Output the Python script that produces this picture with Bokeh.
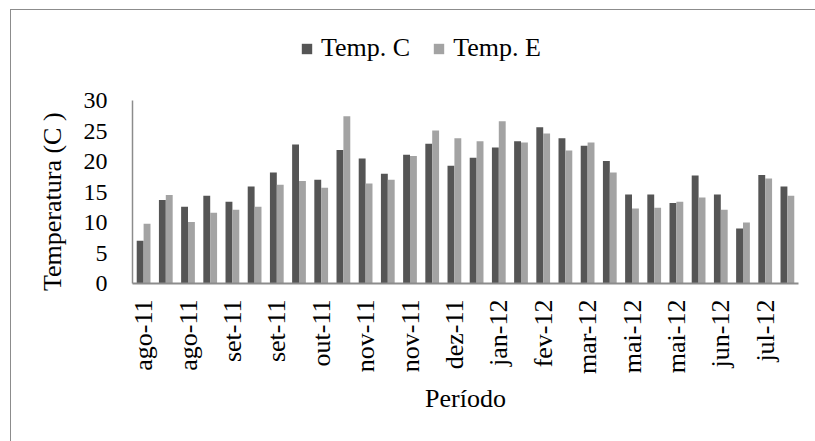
from math import pi
from bokeh.plotting import figure
from bokeh.layouts import column
from bokeh.models import FixedTicker, Legend, LegendItem
from bokeh.embed import file_html
from bokeh.resources import INLINE

# ---- data ----
tick_labels = ["ago-11", "ago-11", "set-11", "set-11", "out-11", "nov-11", "nov-11",
               "dez-11", "jan-12", "fev-12", "mar-12", "mai-12", "mai-12", "jun-12", "jul-12"]
temp_c = [7.0, 13.7, 12.6, 14.4, 13.4, 15.9, 18.2, 22.8, 17.0, 21.9, 20.5, 18.0, 21.1, 22.9, 19.3,
          20.6, 22.3, 23.3, 25.6, 23.8, 22.6, 20.1, 14.6, 14.6, 13.2, 17.7, 14.6, 9.0, 17.8, 15.9]
temp_e = [9.8, 14.5, 10.1, 11.6, 12.1, 12.6, 16.2, 16.8, 15.7, 27.4, 16.4, 17.0, 20.9, 25.1, 23.8,
          23.3, 26.6, 23.1, 24.6, 21.8, 23.1, 18.2, 12.3, 12.4, 13.4, 14.1, 12.1, 10.0, 17.2, 14.4]
series_names = ["Temp. C", "Temp. E"]
y_ticks = [0, 5, 10, 15, 20, 25, 30]

idx = list(range(len(temp_c)))
FONT = "Liberation Serif"
COL_C, COL_E = "#555555", "#a3a3a3"
w = 0.31

# ---------------- main chart ----------------
p = figure(width=815, height=366, output_backend="svg", toolbar_location=None,
           x_range=(-0.5, len(idx) - 0.5), y_range=(0, 30),
           min_border_left=132, min_border_right=17, min_border_top=25, min_border_bottom=158)
p.outline_line_color = None
p.background_fill_color = "white"
p.border_fill_color = None
p.xgrid.visible = False
p.ygrid.visible = False

p.vbar(x=[i - w / 2 for i in idx], top=temp_c, width=w, bottom=0,
       fill_color=COL_C, line_color=None)
p.vbar(x=[i + w / 2 for i in idx], top=temp_e, width=w, bottom=0,
       fill_color=COL_E, line_color=None)

# y axis
p.yaxis.ticker = FixedTicker(ticks=y_ticks)
p.yaxis.major_tick_line_color = None
p.yaxis.minor_tick_line_color = None
p.yaxis.major_tick_out = 0
p.yaxis.major_tick_in = 0
p.yaxis.axis_line_color = "#8c8c8c"
p.yaxis.axis_line_width = 1.5
p.yaxis.major_label_text_font = FONT
p.yaxis.major_label_text_font_size = "24px"
p.yaxis.major_label_text_color = "black"
p.yaxis.major_label_standoff = 25
p.yaxis.axis_label = "Temperatura (C )\u00a0\u00a0\u00a0"
p.yaxis.axis_label_text_font = FONT
p.yaxis.axis_label_text_font_size = "26px"
p.yaxis.axis_label_text_font_style = "normal"
p.yaxis.axis_label_text_color = "black"
p.yaxis.axis_label_standoff = 14

# x axis
xt = list(range(0, len(idx), 2))
p.xaxis.ticker = FixedTicker(ticks=xt)
p.xaxis.major_label_overrides = {t: lab for t, lab in zip(xt, tick_labels)}
p.xaxis.major_label_orientation = pi / 2
p.xaxis.major_tick_line_color = None
p.xaxis.minor_tick_line_color = None
p.xaxis.major_tick_out = 0
p.xaxis.major_tick_in = 0
p.xaxis.axis_line_color = "#8c8c8c"
p.xaxis.axis_line_width = 2
p.xaxis.major_label_text_font = FONT
p.xaxis.major_label_text_font_size = "26px"
p.xaxis.major_label_text_color = "black"
p.xaxis.major_label_standoff = 16
p.xaxis.axis_label = "Período"
p.xaxis.axis_label_text_font = FONT
p.xaxis.axis_label_text_font_size = "26px"
p.xaxis.axis_label_text_font_style = "normal"
p.xaxis.axis_label_text_color = "black"
p.xaxis.axis_label_standoff = 7

# ---------------- legend strip above the chart ----------------
leg = figure(width=815, height=75, output_backend="svg", toolbar_location=None,
             x_range=(-0.5, len(idx) - 0.5), y_range=(100, 101),
             x_axis_location=None, y_axis_location=None, min_border=0)
leg.outline_line_color = None
leg.background_fill_color = None
leg.border_fill_color = None
leg.grid.visible = False
# same series, drawn outside this strip's visible range; only their legend swatches show
lc = leg.vbar(x=idx, top=temp_c, width=w, bottom=0, fill_color=COL_C, line_color=None)
le = leg.vbar(x=idx, top=temp_e, width=w, bottom=0, fill_color=COL_E, line_color=None)
legend = Legend(items=[LegendItem(label=series_names[0], renderers=[lc]),
                       LegendItem(label=series_names[1], renderers=[le])],
                orientation="horizontal", location=(168, 12),
                glyph_width=13, glyph_height=13, label_standoff=8, spacing=22,
                label_text_font=FONT, label_text_font_size="26px", label_text_color="black",
                border_line_color=None, background_fill_alpha=0, padding=0, margin=0)
leg.add_layout(legend, "center")

# thin grey chart-area frame (only its top and left edges fall inside the window)
TEMPLATE = """
{% block postamble %}
<style>
body::before { content: ""; position: fixed; left: 10px; top: 9px; right: 0; bottom: 0;
  border-top: 1.5px solid #8c8c8c; border-left: 1.5px solid #8c8c8c;
  pointer-events: none; z-index: 10; }
</style>
{% endblock %}
"""

open("out.html", "w").write(file_html(column(leg, p, spacing=0), INLINE, template=TEMPLATE))
